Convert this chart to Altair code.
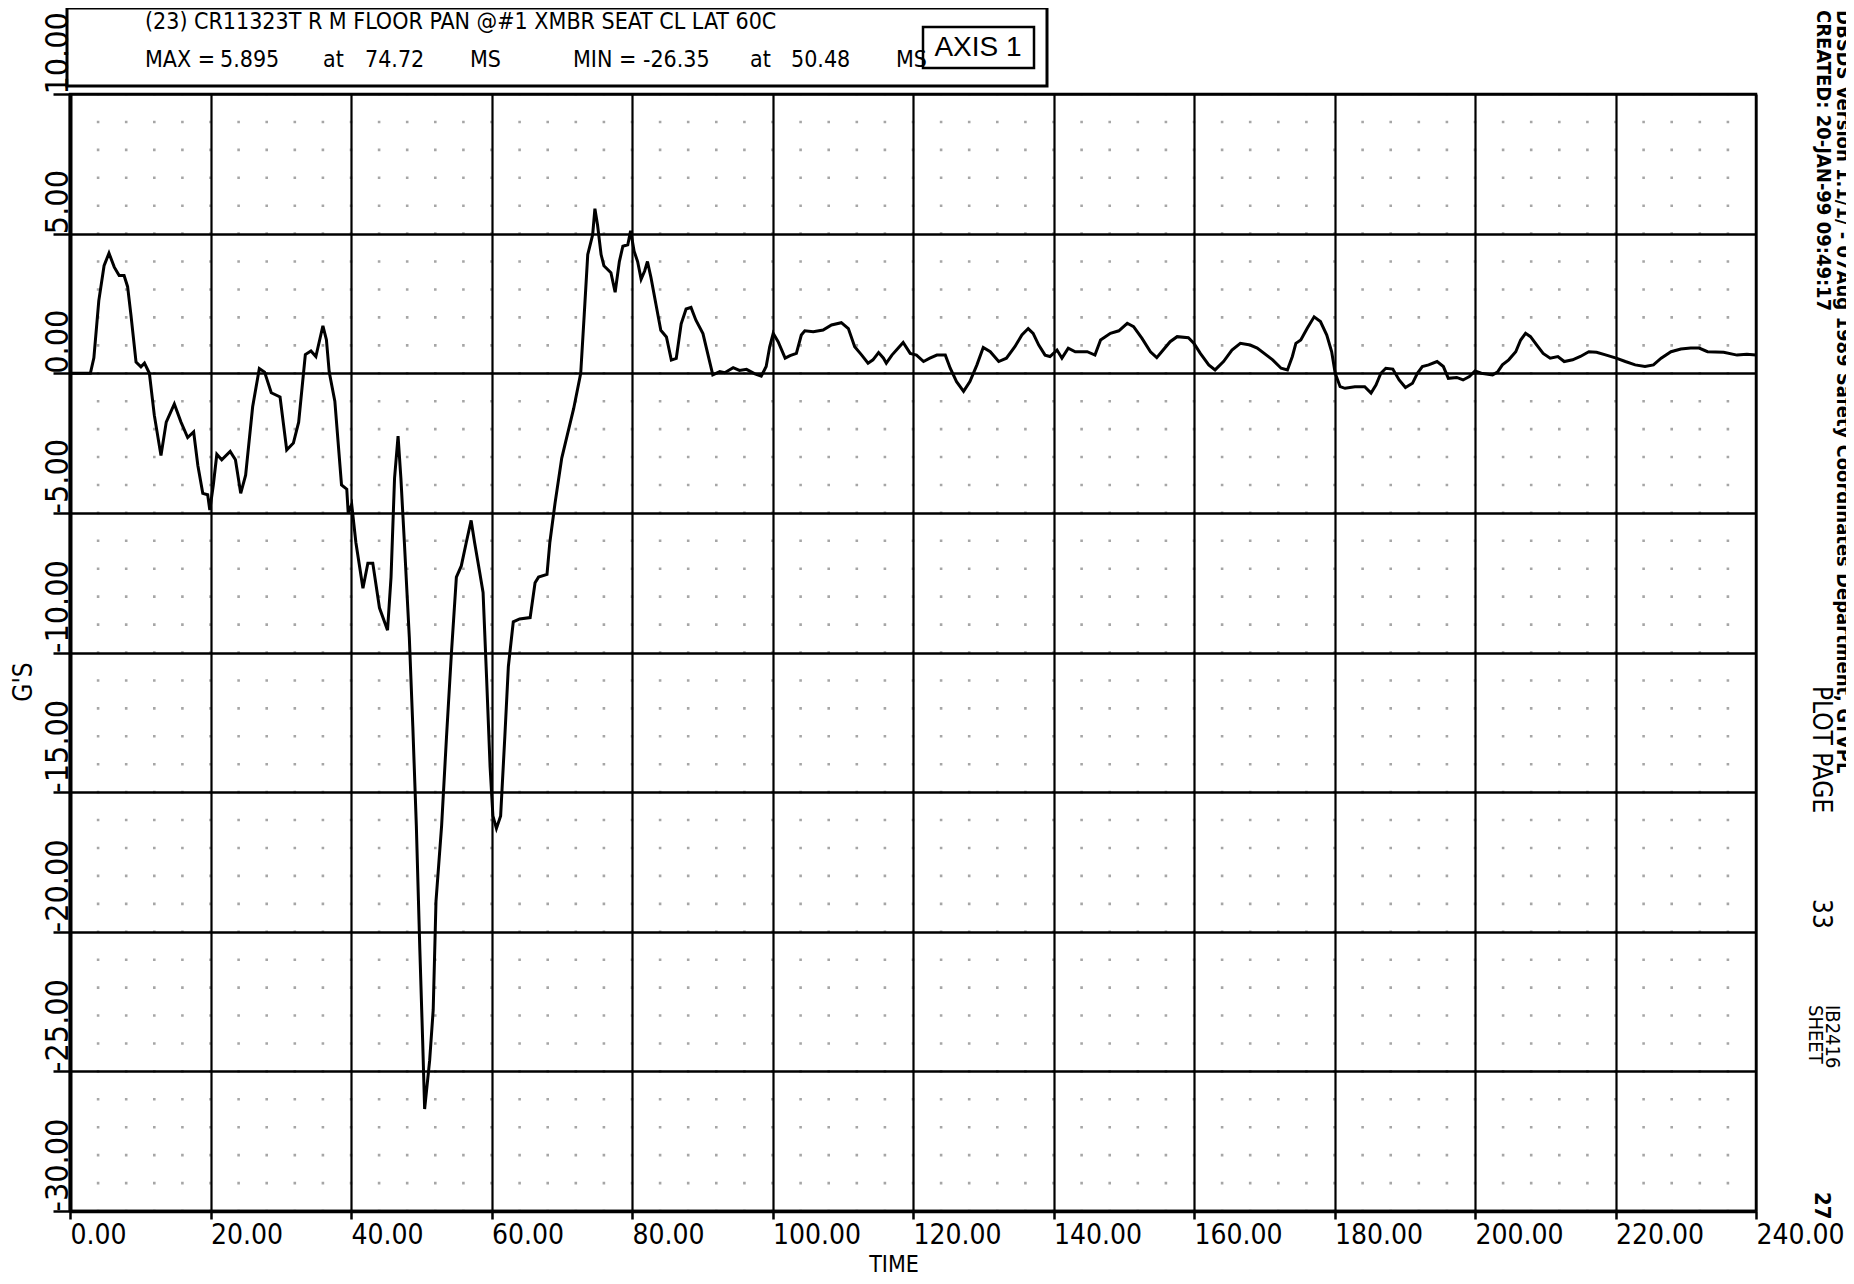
import altair as alt
import pandas as pd

# ---------------- data ----------------
TIME_MS = [0, 2.9, 3.4, 4.1, 4.85, 5.55, 6.3, 7.0, 7.7, 8.2, 8.67, 9.4, 10.1, 10.6, 11.3, 12.0,
           12.95, 13.7, 14.85, 15.8, 16.75, 17.6, 18.2, 18.9, 19.6, 19.9, 20.4, 20.9, 21.6, 22.8,
           23.55, 24.3, 25.0, 26.0, 26.95, 27.7, 28.65, 29.9, 30.85, 31.8, 32.55, 33.5, 34.3, 35.0,
           36.0, 36.5, 36.9, 37.7, 38.65, 39.4, 39.6, 40.1, 40.7, 41.7, 42.4, 43.1, 44.05, 45.2,
           45.7, 46.2, 46.7, 47.1, 47.6, 48.3, 48.8, 49.3, 49.8, 50.2, 50.48, 51.2, 51.7, 52.1,
           52.9, 53.6, 54.3, 55.0, 55.7, 56.4, 57.1, 57.6, 58.3, 58.8, 59.3, 59.8, 60.2, 60.7,
           61.3, 61.9, 62.4, 63.1, 64.0, 65.5, 66.2, 66.7, 67.9, 68.3, 69.05, 70.0, 70.8, 71.7,
           72.7, 73.2, 73.7, 74.4, 74.72, 75.1, 75.6, 76.0, 77.0, 77.6, 78.2, 78.7, 79.4, 79.8,
           80.3, 80.8, 81.3, 81.8, 82.2, 82.7, 83.4, 84.1, 84.9, 85.6, 86.3, 87.0, 87.7, 88.4,
           89.1, 90.1, 91.0, 91.5, 92.5, 93.2, 94.4, 95.3, 96.3, 97.5, 98.4, 99.1, 99.6, 100.1,
           100.8, 101.8, 102.5, 103.4, 104.1, 104.6, 105.8, 107.2, 108.4, 109.8, 110.8, 111.7,
           112.7, 113.6, 114.3, 115.1, 115.8, 116.2, 117.0, 117.9, 118.6, 119.6, 120.5, 121.5,
           122.4, 123.4, 124.6, 125.3, 126.2, 127.2, 128.1, 129.1, 130.0, 131.0, 132.2, 133.3,
           134.5, 135.5, 136.4, 137.1, 137.9, 138.8, 139.5, 140.5, 141.2, 142.1, 143.1, 144.8,
           145.9, 146.7, 148.1, 149.3, 150.5, 151.4, 152.6, 153.8, 154.7, 155.4, 156.6, 157.6,
           159.2, 160.0, 160.9, 162.1, 163.0, 164.2, 165.4, 166.6, 168.0, 169.0, 171.2, 172.4,
           173.3, 174.0, 174.5, 175.2, 176.1, 177.1, 178.0, 178.9, 179.6, 180.1, 180.8, 181.5,
           182.9, 184.3, 185.2, 185.9, 186.6, 187.3, 188.3, 189.2, 190.1, 191.1, 191.8, 192.5,
           193.4, 194.6, 195.5, 196.2, 197.4, 198.3, 199.2, 200.0, 200.9, 202.5, 203.2, 203.9,
           204.8, 205.8, 206.5, 207.2, 207.9, 208.8, 209.7, 210.7, 211.8, 212.7, 213.9, 215.0,
           216.2, 217.3, 218.7, 220.1, 221.4, 222.8, 224.2, 225.4, 226.5, 227.9, 229.3, 230.7,
           231.9, 233.1, 235.4, 237.3, 238.7, 240.0]
ACCEL_G = [0, 0, 0.55, 2.6, 3.85, 4.3, 3.8, 3.5, 3.5, 3.1, 2.1, 0.4, 0.23, 0.36, 0.0, -1.5,
           -2.95, -1.75, -1.1, -1.75, -2.3, -2.1, -3.3, -4.3, -4.35, -4.9, -4.0, -2.9, -3.1, -2.8,
           -3.1, -4.3, -3.65, -1.2, 0.17, 0.04, -0.7, -0.85, -2.75, -2.5, -1.75, 0.67, 0.8, 0.6,
           1.7, 1.2, 0.04, -1.0, -4.0, -4.15, -5.0, -4.7, -6.07, -7.7, -6.8, -6.8, -8.4, -9.2,
           -7.3, -3.75, -2.25, -3.75, -6.07, -9.45, -12.65, -16.2, -20.65, -23.9, -26.35, -24.6, -22.8, -18.9,
           -16.2, -13.0, -10.0, -7.3, -6.9, -6.07, -5.27, -6.07, -7.1, -7.85, -10.9, -14.1, -15.85, -16.3,
           -15.85, -13.0, -10.5, -8.9, -8.8, -8.75, -7.5, -7.3, -7.2, -6.07, -4.64, -3.04, -2.2, -1.26,
           0.0, 2.1, 4.25, 4.96, 5.895, 5.3, 4.25, 3.85, 3.6, 2.9, 4.0, 4.55, 4.6, 5.1,
           4.37, 4.0, 3.37, 3.66, 4.0, 3.43, 2.48, 1.54, 1.3, 0.47, 0.53, 1.77, 2.3, 2.36,
           1.9, 1.42, 0.47, -0.06, 0.06, 0.02, 0.2, 0.1, 0.14, -0.02, -0.1, 0.24, 0.95, 1.43,
           1.13, 0.54, 0.63, 0.71, 1.37, 1.52, 1.49, 1.55, 1.73, 1.81, 1.6, 0.95,
           0.65, 0.36, 0.48, 0.74, 0.54, 0.36, 0.65, 0.9, 1.1, 0.71, 0.65, 0.42,
           0.54, 0.65, 0.65, 0.18, -0.3, -0.65, -0.3, 0.3, 0.92, 0.77, 0.42, 0.54,
           0.95, 1.37, 1.6, 1.43, 1.01, 0.65, 0.6, 0.83, 0.54, 0.9, 0.77, 0.77,
           0.65, 1.19, 1.43, 1.52, 1.79, 1.67, 1.25, 0.77, 0.56, 0.77, 1.13, 1.31,
           1.27, 1.07, 0.71, 0.3, 0.12, 0.42, 0.83, 1.07, 1.01, 0.9, 0.48, 0.18,
           0.12, 0.6, 1.07, 1.19, 1.6, 2.02, 1.85, 1.37, 0.77, 0.0, -0.48, -0.54,
           -0.48, -0.48, -0.71, -0.42, 0.0, 0.18, 0.15, -0.24, -0.51, -0.36, 0.0, 0.24,
           0.3, 0.42, 0.24, -0.18, -0.15, -0.24, -0.12, 0.08, 0.0, -0.06, 0.04, 0.3,
           0.48, 0.77, 1.19, 1.43, 1.31, 1.01, 0.71, 0.54, 0.6, 0.42, 0.48, 0.6,
           0.77, 0.75, 0.65, 0.54, 0.42, 0.3, 0.24, 0.3, 0.54, 0.77, 0.87, 0.9,
           0.9, 0.77, 0.75, 0.65, 0.68, 0.65]

X_TICKS = [0, 20, 40, 60, 80, 100, 120, 140, 160, 180, 200, 220, 240]
Y_TICKS = [10, 5, 0, -5, -10, -15, -20, -25, -30]

TITLE_LINE = "(23) CR11323T R M FLOOR PAN @#1 XMBR SEAT CL LAT 60C"
STATS = ["MAX =", "5.895", "at", "74.72", "MS", "MIN = -26.35", "at", "50.48", "MS"]
STATS_X = [75, 150, 253, 295, 400, 503, 680, 721, 826]
SIDE_LINE_1 = "DBSDS Version 1.1/1/ - 07Aug 1989     Safety Coordinates Department, GTVPL"
SIDE_LINE_2 = "CREATED: 20-JAN-99 09:49:17"

# ---------------- layout ----------------
W, H = 1686, 1117
NARROW = "Liberation Sans Narrow, DejaVu Sans Condensed, DejaVu Sans"
SANS = "Liberation Sans, DejaVu Sans"

df = pd.DataFrame({"t": TIME_MS, "g": ACCEL_G})
xscale = alt.Scale(domain=[0, 240], nice=False, zero=False)
yscale = alt.Scale(domain=[-30, 10], nice=False, zero=False)

x_axis = alt.Axis(
    values=X_TICKS, labelExpr="format(datum.value, '.2f')", title=None,
    labelAlign="left", labelBaseline="top", labelFont=NARROW, labelFontSize=28,
    labelColor="black", labelPadding=2, labelOverlap=False, labelFlush=False, labelBound=False,
    tickSize=8, tickWidth=2.5, tickColor="black",
    domainColor="black", domainWidth=3.5,
    grid=True, gridColor="black", gridWidth=2.2, gridOpacity=1,
)
y_axis = alt.Axis(
    values=Y_TICKS,
    labelExpr="(datum.value < 0 ? '-' : '') + format(abs(datum.value), '.2f')",
    title=None, labelAngle=270, labelAlign="left", labelBaseline="alphabetic",
    labelFont=NARROW, labelFontSize=32, labelColor="black", labelPadding=-14,
    labelOverlap=False, labelFlush=False, labelBound=False,
    tickSize=17, tickWidth=2.5, tickColor="black",
    domainColor="black", domainWidth=4,
    grid=True, gridColor="black", gridWidth=2.4, gridOpacity=1,
)

# faint dotted minor grid (every 4 ms, every 1 G)
step_px = H / 40.0
minor = alt.Chart(alt.sequence(4, 240, 4, as_="t")).mark_rule(
    color="black", strokeWidth=2.6, opacity=0.35,
    strokeDash=[2.6, step_px - 2.6], strokeDashOffset=1.3,
).encode(
    x=alt.X("t:Q", scale=xscale, axis=x_axis),
    y=alt.value(0), y2=alt.value(H),
)

line = alt.Chart(df).mark_line(color="black", strokeWidth=3, interpolate="linear").encode(
    x=alt.X("t:Q", scale=xscale, axis=x_axis),
    y=alt.Y("g:Q", scale=yscale, axis=y_axis),
    order="t:Q",
)

ONE = alt.Data(values=[{}])


def txt(text, x, y, size, font=NARROW, angle=0, align="left", baseline="middle", weight="normal"):
    return alt.Chart(ONE).mark_text(
        text=text, fontSize=size, font=font, angle=angle, align=align,
        baseline=baseline, fontWeight=weight, color="black",
    ).encode(x=alt.value(x), y=alt.value(y))


def box(x1, x2, y1, y2, width):
    return alt.Chart(ONE).mark_rect(
        fillOpacity=0, stroke="black", strokeWidth=width,
    ).encode(x=alt.value(x1), x2=alt.value(x2), y=alt.value(y1), y2=alt.value(y2))


layers = [minor, line,
          box(-3, 977, -86, -8, 3),
          box(853, 964, -67, -26, 2.5),
          txt(TITLE_LINE, 75, -72, 23),
          txt("AXIS 1", 908, -46, 28, font=SANS, align="center")]
for s, xx in zip(STATS, STATS_X):
    layers.append(txt(s, xx, -34, 23))

layers += [
    txt("TIME", 824, 1171, 23, align="center"),
    txt("G'S", -46, 588, 26, angle=270, align="center"),
    txt(SIDE_LINE_1, 1773, -84, 20, angle=90, weight="bold"),
    txt(SIDE_LINE_2, 1753, -84, 20, angle=90, weight="bold"),
    txt("PLOT PAGE", 1751, 592, 26, angle=90),
    txt("33", 1751, 805, 26, angle=90),
    txt("IB2416", 1762, 911, 20, angle=90),
    txt("SHEET", 1745, 911, 20, angle=90),
    txt("27", 1752, 1098, 22, angle=90, weight="bold"),
]

chart = alt.layer(*layers).properties(
    width=W, height=H,
    padding={"left": 62, "top": 86, "right": 90, "bottom": 66},
    autosize=alt.AutoSizeParams(type="none"),
    background="white",
).configure_view(stroke="black", strokeWidth=2.5)

chart.save("out.html", embed_options={"renderer": "svg", "actions": False})
